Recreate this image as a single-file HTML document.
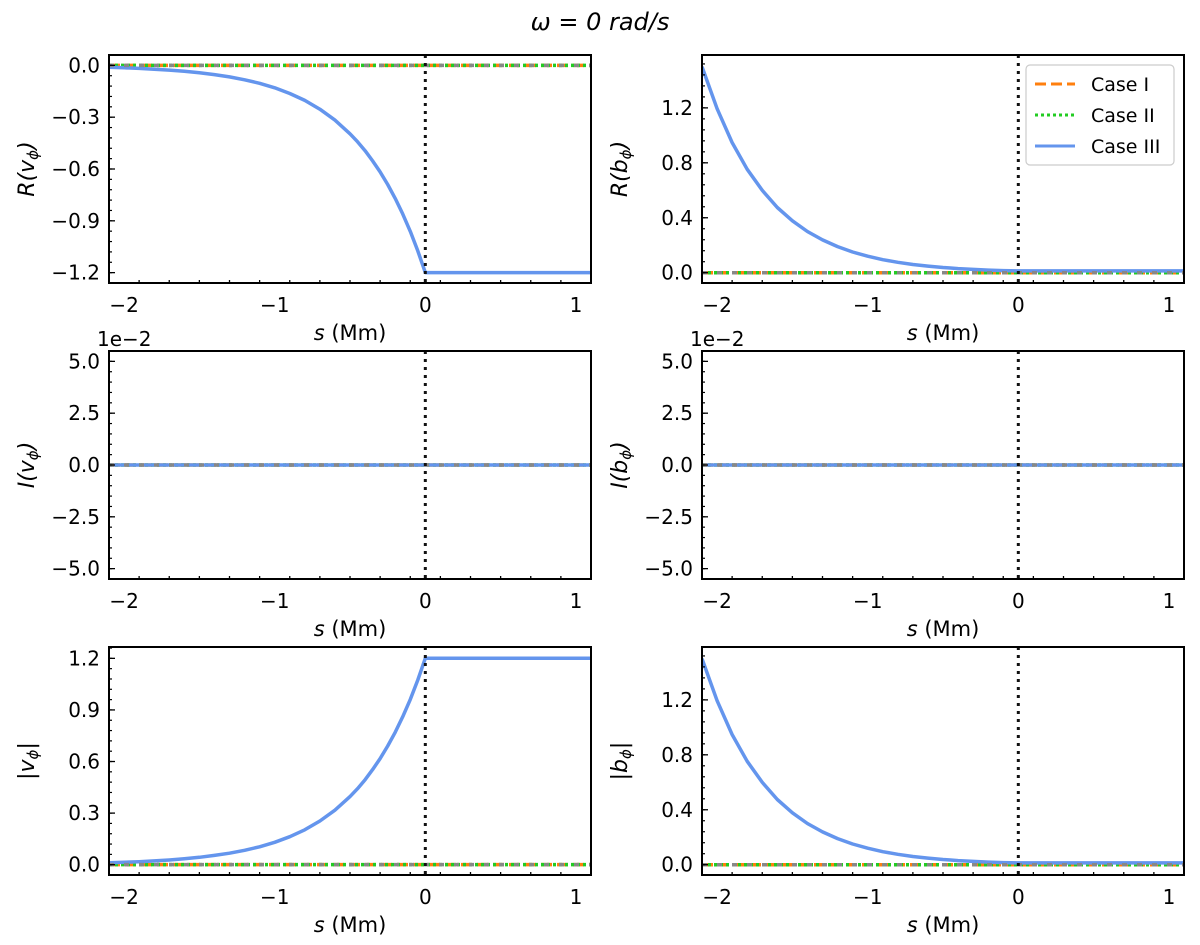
<!DOCTYPE html>
<html><head><meta charset="utf-8"><style>
html,body{margin:0;padding:0;background:#fff;}
svg{display:block;font-family:"DejaVu Sans","Liberation Sans",sans-serif;}
</style></head><body>
<svg id="fig" width="1200" height="945" viewBox="0 0 1200 945" xmlns="http://www.w3.org/2000/svg">
<text x="600" y="30" text-anchor="middle" font-size="24" font-style="italic" font-family="'DejaVu Sans','Liberation Sans',sans-serif">ω = 0 rad/s</text>
</svg>
<script>
// ---- data ----
const sGrid = [-2.1,-2.0,-1.9,-1.8,-1.7,-1.6,-1.5,-1.4,-1.3,-1.2,-1.1,-1.0,-0.9,-0.8,-0.7,-0.6,-0.5,-0.45,-0.4,-0.35,-0.3,-0.25,-0.2,-0.15,-0.1,-0.05,0.0,1.1];
const reV = [-0.0113,-0.0141,-0.0176,-0.022,-0.0275,-0.0344,-0.043,-0.0537,-0.067,-0.0836,-0.104,-0.130,-0.163,-0.203,-0.254,-0.317,-0.396,-0.442,-0.494,-0.553,-0.617,-0.690,-0.770,-0.860,-0.961,-1.074,-1.2,-1.2];
const absV = [0.0113,0.0141,0.0176,0.022,0.0275,0.0344,0.043,0.0537,0.067,0.0836,0.104,0.130,0.163,0.203,0.254,0.317,0.396,0.442,0.494,0.553,0.617,0.690,0.770,0.860,0.961,1.074,1.2,1.2];
const reB = [1.50,1.194,0.948,0.753,0.599,0.475,0.378,0.300,0.239,0.190,0.151,0.120,0.095,0.0756,0.060,0.0477,0.038,0.034,0.0301,0.027,0.024,0.0215,0.019,0.017,0.015,0.014,0.013,0.013];
const absB = [1.50,1.194,0.948,0.753,0.599,0.475,0.378,0.300,0.239,0.190,0.151,0.120,0.095,0.0756,0.060,0.0477,0.038,0.034,0.0301,0.027,0.024,0.0215,0.019,0.017,0.015,0.014,0.013,0.013];
const imZero = [0,0,0,0,0,0,0,0,0,0,0,0,0,0,0,0,0,0,0,0,0,0,0,0,0,0,0,0];
const xTicks = [-2,-1,0,1];
const xTickLabels = ["−2","−1","0","1"];
const ticksV = [0.0,-0.3,-0.6,-0.9,-1.2];
const ticksB = [0.0,0.4,0.8,1.2];
const ticksI = [5.0,2.5,0.0,-2.5,-5.0];
const ticksAV = [0.0,0.3,0.6,0.9,1.2];
const legendLabels = ["Case I","Case II","Case III"];

const NS="http://www.w3.org/2000/svg";
const svg=document.getElementById('fig');
function mk(tag,attrs,parent){const e=document.createElementNS(NS,tag);for(const k in attrs)e.setAttribute(k,attrs[k]);(parent||svg).appendChild(e);return e;}
function fmt(v,d){let s=v.toFixed(d);if(s.startsWith('-'))s='−'+s.slice(1);if(s==='−0.0')s='0.0';return s;}

const panels=[
 {name:'re-v',x0:109,x1:591,y0:55,y1:283,ymin:-1.26,ymax:0.06,ticks:ticksV,minor:0.06,dec:1,label:'R(v',lab2:'ϕ',lab3:')',data:reV},
 {name:'re-b',x0:702,x1:1184,y0:55,y1:283,ymin:-0.075,ymax:1.585,ticks:ticksB,minor:0.08,dec:1,label:'R(b',lab2:'ϕ',lab3:')',data:reB,legend:true},
 {name:'im-v',x0:109,x1:591,y0:351,y1:579,ymin:-5.5,ymax:5.5,ticks:ticksI,minor:0.5,dec:1,label:'I(v',lab2:'ϕ',lab3:')',data:imZero,sci:true},
 {name:'im-b',x0:702,x1:1184,y0:351,y1:579,ymin:-5.5,ymax:5.5,ticks:ticksI,minor:0.5,dec:1,label:'I(b',lab2:'ϕ',lab3:')',data:imZero,sci:true},
 {name:'abs-v',x0:109,x1:591,y0:647,y1:875,ymin:-0.06,ymax:1.266,ticks:ticksAV,minor:0.06,dec:1,label:'|v',lab2:'ϕ',lab3:'|',data:absV},
 {name:'abs-b',x0:702,x1:1184,y0:647,y1:875,ymin:-0.075,ymax:1.585,ticks:ticksB,minor:0.08,dec:1,label:'|b',lab2:'ϕ',lab3:'|',data:absB}
];

panels.forEach(p=>{
  const g=mk('g',{});
  
  
  const X=s=>p.x0+(s+2.1)/3.2*(p.x1-p.x0);
  const Y=v=>p.y1-(v-p.ymin)/(p.ymax-p.ymin)*(p.y1-p.y0);
  const clip='clip-'+p.name;
  const cp=mk('clipPath',{id:clip},g);mk('rect',{x:p.x0,y:p.y0,width:p.x1-p.x0,height:p.y1-p.y0},cp);
  const plot=mk('g',{'clip-path':'url(#'+clip+')'},g);
  const zy=Y(0);
  const c1=mk('line',{x1:p.x0,x2:p.x1,y1:zy,y2:zy,stroke:'#ff7f0e','stroke-width':3.5,'stroke-dasharray':'11,5'},plot);
  
  
  const c2=mk('line',{x1:p.x0,x2:p.x1,y1:zy,y2:zy,stroke:'#22cc22','stroke-width':3.5,'stroke-dasharray':'3,3'},plot);
  
  
  const pts=sGrid.map((s,i)=>X(s).toFixed(1)+','+Y(p.data[i]).toFixed(1)).join(' ');
  const c3=mk('polyline',{points:pts,fill:'none',stroke:'#6495ed','stroke-width':3.5,'stroke-linejoin':'round'},plot);
  
  
  const gz=mk('line',{x1:p.x0,x2:p.x1,y1:zy,y2:zy,stroke:'#888','stroke-width':3.5,'stroke-dasharray':'5,10'},plot);
  
  
  const vl=mk('line',{x1:X(0),x2:X(0),y1:p.y0,y2:p.y1,stroke:'#111','stroke-width':3,'stroke-dasharray':'3,5'},plot);
  
  
  mk('rect',{x:p.x0,y:p.y0,width:p.x1-p.x0,height:p.y1-p.y0,fill:'none',stroke:'#000','stroke-width':2},g);
  for(let k=-21;k<=11;k+=2){const s=k/10;const x=X(s);const major=Math.abs(s-Math.round(s))<1e-6;
    mk('line',{x1:x,x2:x,y1:p.y1,y2:p.y1-(major?6:3),stroke:'#000','stroke-width':1.3},g);}
  xTicks.forEach((t,i)=>{const tl=mk('text',{x:X(t),y:p.y1+29,'text-anchor':'middle','font-size':20},g);tl.textContent=xTickLabels[i];
    
    });
  const start=Math.ceil(p.ymin/p.minor-1e-6);
  for(let k=start;k*p.minor<=p.ymax+1e-9;k++){const y=Y(k*p.minor);mk('line',{x1:p.x0,x2:p.x0+3,y1:y,y2:y,stroke:'#000','stroke-width':1.2},g);}
  p.ticks.forEach(t=>{const y=Y(t);mk('line',{x1:p.x0,x2:p.x0+6,y1:y,y2:y,stroke:'#000','stroke-width':1.3},g);
    const tl=mk('text',{x:p.x0-9,y:y+7,'text-anchor':'end','font-size':20},g);tl.textContent=fmt(t,p.dec);
    
    });
  const xl=mk('text',{x:(p.x0+p.x1)/2,y:p.y1+57,'text-anchor':'middle','font-size':21},g);
  xl.innerHTML='<tspan font-style="italic">s</tspan> (Mm)';
  
  
  const yl=mk('text',{transform:'translate('+(p.x0-75)+','+((p.y0+p.y1)/2)+') rotate(-90)','text-anchor':'middle','font-size':22,'font-style':'italic'},g);
  yl.innerHTML=p.label+'<tspan font-size="15" dy="4">'+p.lab2+'</tspan><tspan dy="-4">'+p.lab3+'</tspan>';
  
  
  if(p.sci){const st=mk('text',{x:p.x0-12,y:p.y0-5,'font-size':20},g);st.textContent='1e−2';
    
    }
  if(p.legend){
    const lg=mk('g',{},g);
    
    
    mk('rect',{x:1026,y:65,width:148,height:100,rx:4,fill:'#fff','fill-opacity':0.85,stroke:'#ccc','stroke-width':1.2},lg);
    const styles=[{stroke:'#ff7f0e',da:'11,5'},{stroke:'#22cc22',da:'3,3'},{stroke:'#6495ed',da:''}];
    legendLabels.forEach((l,i)=>{const y=84+i*31;
      const e=mk('g',{},lg);
      
      
      const a={x1:1035,x2:1075,y1:y,y2:y,stroke:styles[i].stroke,'stroke-width':3};if(styles[i].da)a['stroke-dasharray']=styles[i].da;
      mk('line',a,e);
      const t=mk('text',{x:1091,y:y+7,'font-size':19},e);t.textContent=l;});
  }
});
</script>
</body></html>
